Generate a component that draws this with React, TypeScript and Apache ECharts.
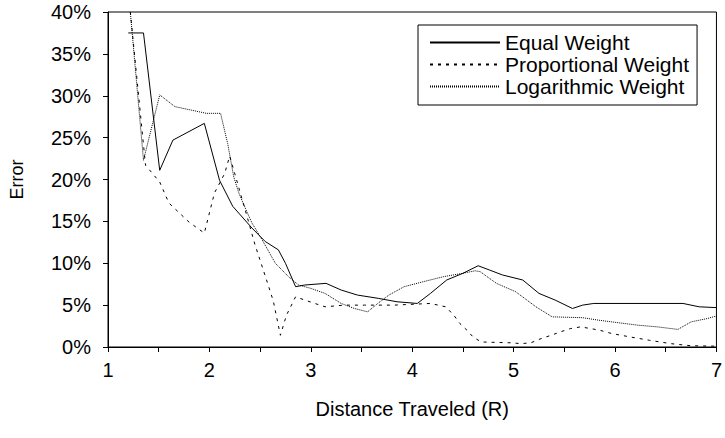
import React, { useEffect, useRef } from "react";
import * as echarts from "echarts";

const seriesNames = ["Equal Weight", "Proportional Weight", "Logarithmic Weight"];

const equalWeight: [number, number][] = [
  [1.2, 37.5], [1.35, 37.5], [1.51, 21.1], [1.64, 24.7], [1.95, 26.7], [2.1, 19.9],
  [2.23, 16.8], [2.42, 14.2], [2.55, 12.6], [2.68, 11.6], [2.75, 10], [2.85, 7.2],
  [2.94, 7.4], [3.15, 7.6], [3.3, 6.8], [3.46, 6.2], [3.67, 5.8], [3.85, 5.4],
  [4.05, 5.2], [4.18, 6.4], [4.34, 8], [4.5, 8.8], [4.65, 9.7], [4.76, 9.2],
  [4.89, 8.6], [5.09, 8.0], [5.25, 6.4], [5.41, 5.6], [5.58, 4.6], [5.68, 5.0],
  [5.79, 5.2], [6.67, 5.2], [6.83, 4.8], [7.0, 4.7],
];

const proportionalWeight: [number, number][] = [
  [1.22, 40], [1.37, 21.7], [1.51, 19.7], [1.6, 17.2], [1.8, 14.9], [1.95, 13.6],
  [2.05, 18.4], [2.15, 20.7], [2.2, 22.8], [2.35, 16.5], [2.45, 12.2], [2.55, 8.5],
  [2.63, 5.5], [2.7, 1.4], [2.76, 3.8], [2.85, 6.0], [2.94, 5.6], [3.14, 4.8],
  [3.33, 5.0], [3.53, 5.0], [3.82, 5.0], [4.18, 5.2], [4.33, 4.8], [4.41, 3.8],
  [4.47, 2.8], [4.54, 2.0], [4.6, 1.2], [4.68, 0.6], [4.98, 0.5], [5.07, 0.4],
  [5.17, 0.5], [5.27, 1.0], [5.37, 1.4], [5.46, 1.8], [5.56, 2.2], [5.66, 2.4],
  [5.76, 2.2], [5.85, 2.0], [5.97, 1.6], [6.15, 1.2], [6.34, 0.8], [6.55, 0.4],
  [6.75, 0.15], [7.0, 0.1],
];

const logarithmicWeight: [number, number][] = [
  [1.22, 40], [1.35, 22.3], [1.51, 30.1], [1.66, 28.7], [1.97, 27.9], [2.11, 27.9],
  [2.18, 24.3], [2.24, 20.3], [2.29, 18.4], [2.36, 16.4], [2.42, 14.8], [2.52, 12.8],
  [2.65, 10], [2.78, 8.4], [2.88, 7.4], [3.0, 7.0], [3.14, 6.4], [3.3, 5.2],
  [3.43, 4.6], [3.56, 4.2], [3.66, 5.2], [3.77, 6.2], [3.92, 7.2], [4.11, 7.8],
  [4.31, 8.4], [4.5, 8.8], [4.62, 9.1], [4.67, 9.0], [4.83, 7.6], [5.02, 6.6],
  [5.22, 4.8], [5.38, 3.6], [5.68, 3.5], [5.84, 3.2], [6.03, 2.9], [6.23, 2.6],
  [6.42, 2.4], [6.62, 2.1], [6.75, 3.0], [6.91, 3.4], [7.0, 3.7],
];

const FONT = "'Liberation Sans', Arial, sans-serif";

export default function App() {
  const ref = useRef<HTMLDivElement>(null);
  useEffect(() => {
    document.body.style.margin = "0";
    if (!ref.current) return;
    const chart = echarts.init(ref.current, undefined, { renderer: "svg" });
    const mk = (name: string, data: [number, number][], type: any) => ({
      name,
      type: "line",
      data,
      symbol: "none",
      lineStyle: { color: "#000", width: 1, type },
      itemStyle: { color: "#000" },
    });
    chart.setOption({
      animation: false,
      backgroundColor: "#fff",
      textStyle: { fontFamily: FONT },
      grid: {
        left: 108,
        right: 3,
        top: 12,
        bottom: 91,
        show: true,
        borderColor: "#000",
        borderWidth: 1,
      },
      legend: {
        orient: "vertical",
        left: 418,
        top: 25,
        data: seriesNames,
        itemWidth: 70,
        itemHeight: 14,
        itemGap: 1,
        padding: [7, 8, 8, 11],
        borderColor: "#000",
        borderWidth: 1,
        backgroundColor: "#fff",
        itemStyle: { opacity: 0 },
        textStyle: { fontFamily: FONT, fontSize: 21, color: "#000" },
      },
      xAxis: {
        type: "value",
        min: 1,
        max: 7,
        interval: 0.5,
        name: "Distance Traveled (R)",
        nameLocation: "middle",
        nameGap: 52,
        nameTextStyle: { fontFamily: FONT, fontSize: 20, color: "#000" },
        axisLine: { show: true, lineStyle: { color: "#000", width: 1 } },
        axisTick: { show: true, length: 5, lineStyle: { color: "#000" } },
        axisLabel: {
          fontFamily: FONT,
          fontSize: 20,
          color: "#000",
          margin: 13,
          formatter: (v: number) => (Number.isInteger(v) ? String(v) : ""),
        },
        splitLine: { show: false },
      },
      yAxis: {
        type: "value",
        min: 0,
        max: 40,
        interval: 5,
        name: "Error",
        nameLocation: "middle",
        nameGap: 82,
        nameRotate: 90,
        nameTextStyle: { fontFamily: FONT, fontSize: 18, color: "#000" },
        axisLine: { show: true, lineStyle: { color: "#000", width: 1 } },
        axisTick: { show: true, length: 5, lineStyle: { color: "#000" } },
        axisLabel: {
          fontFamily: FONT,
          fontSize: 20,
          color: "#000",
          margin: 17,
          formatter: "{value}%",
        },
        splitLine: { show: false },
      },
      series: [
        mk(seriesNames[0], equalWeight, "solid"),
        mk(seriesNames[1], proportionalWeight, [3, 5]),
        mk(seriesNames[2], logarithmicWeight, [1, 1]),
      ],
    });
    return () => chart.dispose();
  }, []);
  return <div ref={ref} style={{ width: 725, height: 438 }} />;
}
